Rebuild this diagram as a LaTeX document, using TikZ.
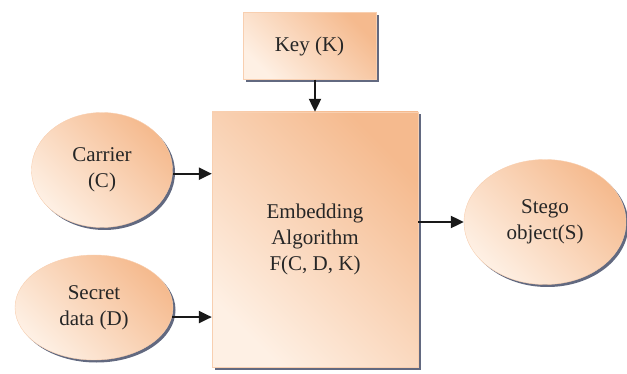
\documentclass[tikz,border=0pt]{standalone}
\usepackage{fontspec}
\setmainfont{Liberation Serif}
\newfontfamily\labelfont{Liberation Serif}
\usetikzlibrary{arrows.meta,shadows,shapes.geometric}
\definecolor{peachlight}{RGB}{254,240,228}
\definecolor{peachdark}{RGB}{245,186,142}
\definecolor{shadowblue}{RGB}{45,55,85}

\begin{document}
\begin{tikzpicture}[x=1pt, y=-1pt,
    peachfill/.style={left color=peachlight, right color=peachdark, shading angle=135,
        draw=peachdark!70, line width=0.4pt,
        drop shadow={shadow xshift=2.5pt, shadow yshift=-2.5pt, fill=shadowblue, opacity=0.75},
        font=\labelfont\fontsize{21}{26}\selectfont, text=black!85, align=center, inner sep=0pt},
    blockbox/.style={peachfill, rectangle},
    roundbox/.style={peachfill, ellipse},
    flow/.style={-{Triangle[length=13pt,width=12pt]}, line width=2.2pt, black!90}]
    \useasboundingbox (0,0) rectangle (627,374);

    % Key and the embedding block
    \node[blockbox, minimum width=133pt, minimum height=67pt] (key) at (309.5,46) {Key (K)};
    \node[blockbox, minimum width=206pt, minimum height=255pt] (embed) at (315,239.5) {Embedding\\Algorithm\\F(C, D, K)};

    % Inputs
    \node[roundbox, minimum width=141pt, minimum height=115pt] (carrier) at (102,170) {Carrier\\(C)};
    \node[roundbox, minimum width=158pt, minimum height=105pt] (secret) at (94,307.5) {Secret\\data (D)};

    % Output
    \node[roundbox, minimum width=162pt, minimum height=125pt] (stego) at (545,222) {Stego\\object(S)};

    % Arrows
    \draw[flow] (key.south -| embed.north) -- (embed.north);
    \draw[flow] (carrier.-3) -- (carrier.-3 -| embed.west);
    \draw[flow] (secret.-7) -- (secret.-7 -| embed.west);
    \draw[flow] (embed.east |- stego.west) -- (stego.west);
\end{tikzpicture}
\end{document}
